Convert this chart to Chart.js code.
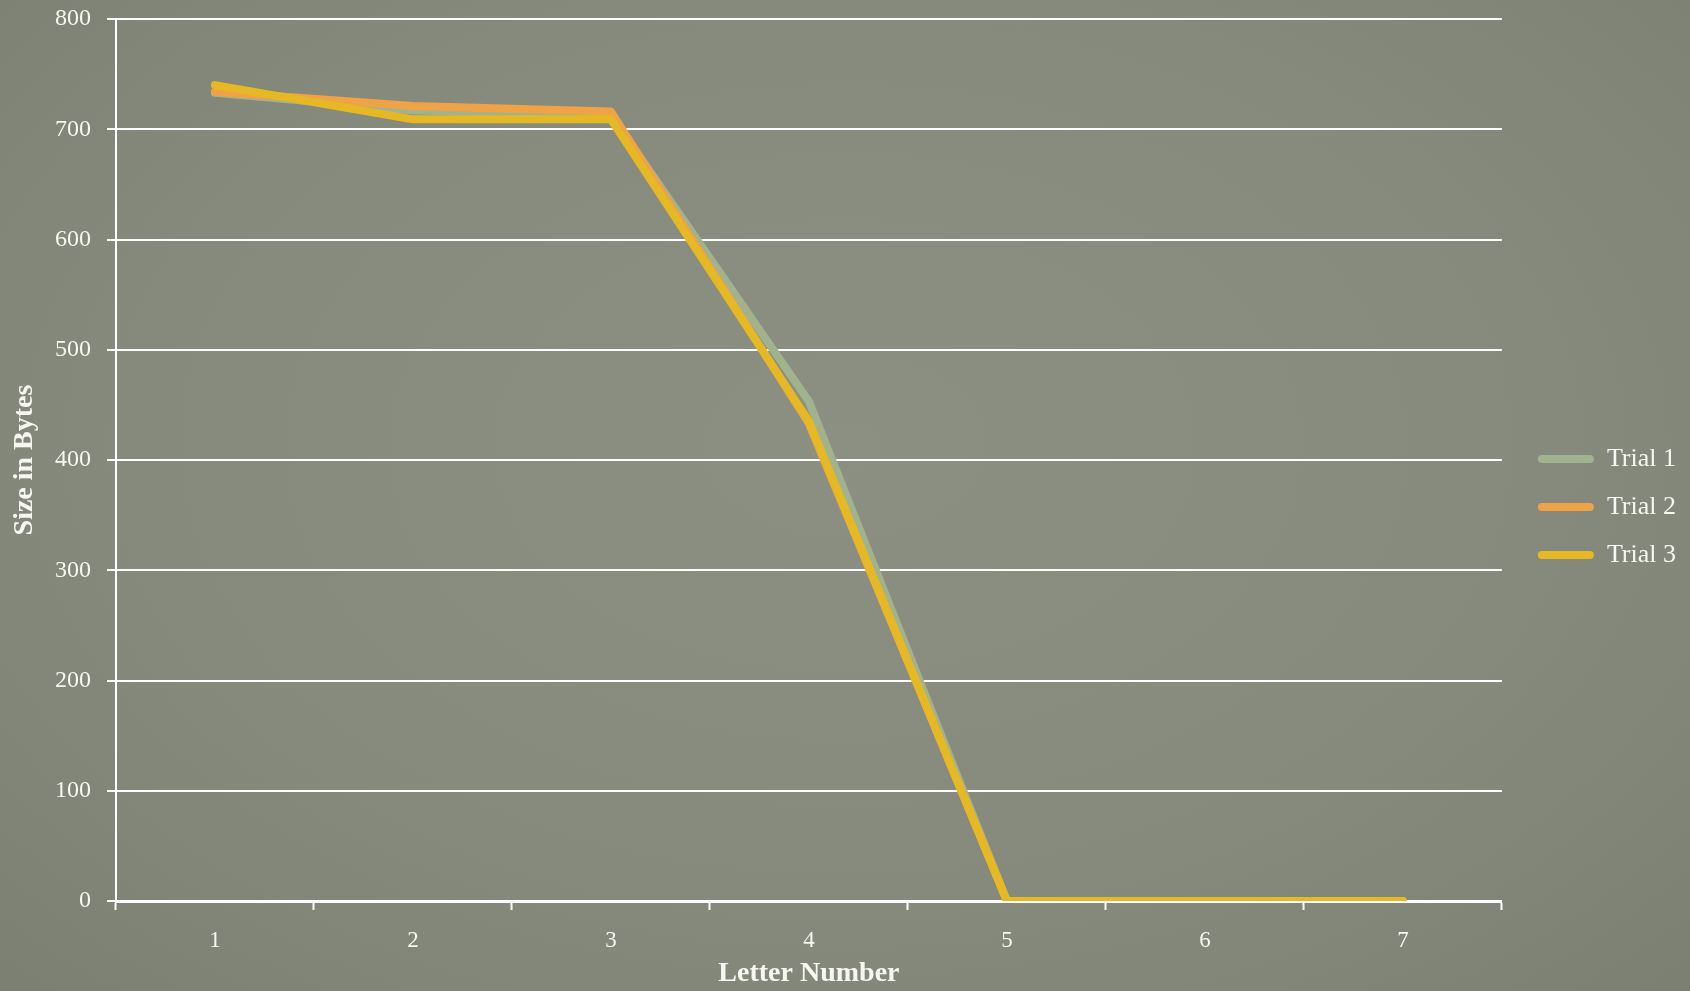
<!DOCTYPE html>
<html>
<head>
<meta charset="utf-8">
<script src="https://cdn.jsdelivr.net/npm/chart.js@4.4.1/dist/chart.umd.min.js"></script>
<style>
  html, body { margin: 0; padding: 0; background: #868b7d; }
  #wrap { width: 1690px; height: 991px; position: relative;
          background: radial-gradient(ellipse at 50% 45%, #8b9083 0%, #858a7c 60%, #7b8073 100%); }
  canvas { display: block; }
</style>
</head>
<body>
<div id="wrap"><canvas id="c" width="1690" height="991"></canvas></div>
<script>
// Letter numbers along the x axis
const letters = ['1', '2', '3', '4', '5', '6', '7'];

// Size in bytes per trial
const trial1 = [733, 717, 713, 453, 0, 0, 0];
const trial2 = [734, 721, 716, 433, 0, 0, 0];
const trial3 = [740, 709, 709, 435, 0, 0, 0];

const seriesNames = ['Trial 1', 'Trial 2', 'Trial 3'];
const seriesColors = ['#a0b38e', '#f0a346', '#e6b924'];

const yTicks = [0, 100, 200, 300, 400, 500, 600, 700, 800];

const textColor = '#f7f6f0';
const serif = "'Liberation Serif', 'DejaVu Serif', serif";

const datasets = [trial1, trial2, trial3].map((vals, i) => ({
  label: seriesNames[i],
  data: vals,
  borderColor: seriesColors[i],
  backgroundColor: seriesColors[i],
  borderWidth: 8,
  borderCapStyle: 'round',
  borderJoinStyle: 'round',
  pointRadius: 0,
  pointHoverRadius: 0,
  tension: 0,
  fill: false,
  order: 2 - i   // later trials drawn on top
}));

// Nudge the legend block away from the plot area after layout
const legendNudge = {
  id: 'legendNudge',
  afterLayout(chart) {
    const lg = chart.legend;
    if (!lg) return;
    lg.left += 14; lg.right += 14;
    lg.top += 2; lg.bottom += 2;
  }
};

new Chart(document.getElementById('c'), {
  type: 'line',
  data: { labels: letters, datasets },
  plugins: [legendNudge],
  options: {
    responsive: false,
    animation: false,
    layout: { padding: { top: 19, right: 18, left: 0, bottom: 0 } },
    plugins: {
      tooltip: { enabled: false },
      legend: {
        position: 'right',
        align: 'center',
        labels: {
          color: textColor,
          font: { family: serif, size: 26 },
          boxWidth: 56,
          boxHeight: 8,
          useBorderRadius: true,
          borderRadius: 4,
          padding: 22,
          sort: (a, b) => a.datasetIndex - b.datasetIndex,
          generateLabels: (chart) => chart.data.datasets.map((ds, i) => ({
            text: ds.label,
            fillStyle: ds.borderColor,
            strokeStyle: ds.borderColor,
            lineWidth: 0,
            borderRadius: 4,
            fontColor: textColor,
            datasetIndex: i,
            hidden: false
          }))
        }
      }
    },
    scales: {
      x: {
        type: 'category',
        offset: true,
        afterFit: (s) => { s.height = 90; },
        grid: {
          display: true,
          drawOnChartArea: false,
          drawTicks: true,
          tickLength: 9,
          tickWidth: 2,
          tickColor: '#ffffff',
          offset: true
        },
        border: { display: true, color: '#ffffff', width: 3 },
        ticks: {
          color: textColor,
          font: { family: serif, size: 23 },
          padding: 17,
          maxRotation: 0
        },
        title: {
          display: true,
          text: 'Letter Number',
          color: textColor,
          font: { family: serif, size: 28, weight: 'bold' },
          padding: { top: 2, bottom: 0 }
        }
      },
      y: {
        min: 0,
        max: 800,
        afterFit: (s) => { s.width = 116; s.paddingTop = 0; s.paddingBottom = 0; },
        afterBuildTicks: (s) => { s.ticks = yTicks.map(v => ({ value: v })); },
        grid: {
          color: '#ffffff',
          lineWidth: 2,
          drawTicks: true,
          tickLength: 9,
          tickColor: '#ffffff'
        },
        border: { display: true, color: '#ffffff', width: 2 },
        ticks: {
          color: textColor,
          font: { family: serif, size: 24 },
          padding: 16
        },
        title: {
          display: true,
          text: 'Size in Bytes',
          color: textColor,
          font: { family: serif, size: 28, weight: 'bold' },
          padding: { top: 8, bottom: 6 }
        }
      }
    }
  }
});
</script>
</body>
</html>
